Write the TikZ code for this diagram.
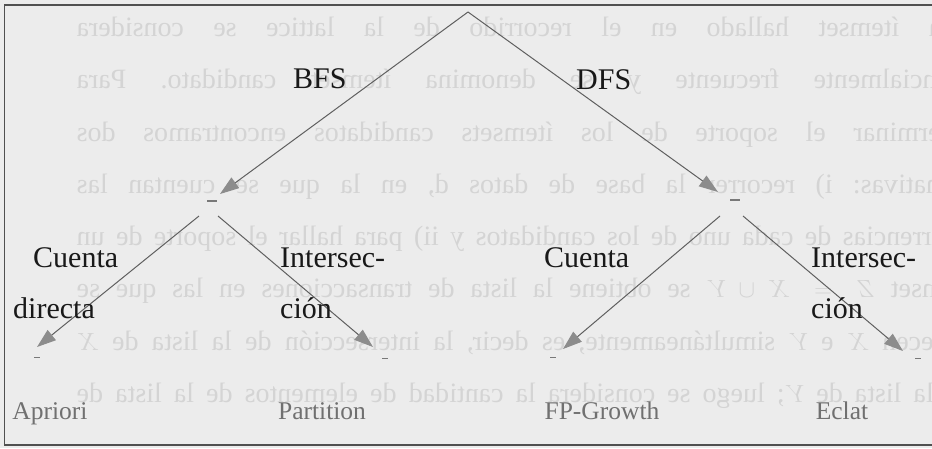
\documentclass[tikz,border=0pt]{standalone}
\usepackage{fontspec}
\setmainfont{Liberation Serif}
\usetikzlibrary{arrows.meta}
\frenchspacing

\definecolor{paper}{RGB}{236,236,236}
\definecolor{showthrough}{RGB}{212,212,212}
\definecolor{edgegray}{RGB}{95,95,95}
\definecolor{tipgray}{RGB}{140,140,140}
\definecolor{leafgray}{RGB}{112,112,112}
\definecolor{framegray}{RGB}{80,80,80}
\definecolor{markgray}{RGB}{120,120,120}

\begin{document}
\begin{tikzpicture}[x=1pt,y=-1pt,
  edge/.style={draw=edgegray, line width=1pt},
  arr/.style={edge, -{Triangle[length=19pt,width=13pt,color=tipgray]}},
  lbl/.style={font=\fontsize{30}{36}\selectfont, text=black!90, inner sep=0pt, anchor=base west},
  leaf/.style={font=\fontsize{25.5}{30}\selectfont, text=leafgray, inner sep=0pt, anchor=base},
  bleed/.style={font=\fontsize{28}{34}\selectfont, text=showthrough, inner sep=0pt,
                anchor=base west, xscale=-1, transform shape},
  midmark/.style={fill=markgray, minimum width=10pt, minimum height=1.2pt, inner sep=0pt},
  leafmark/.style={fill=markgray, minimum width=6pt, minimum height=1pt, inner sep=0pt}
]
\useasboundingbox (0,0) rectangle (932,448);
\fill[paper] (0,0) rectangle (932,448);

% text showing through from the reverse side of the page (mirrored)
\begin{scope}
\clip (0,0) rectangle (932,448);
\node[bleed] (s1) at (957,36)  {\makebox[880pt][s]{un ítemset hallado en el recorrido de la lattice se considera}};
\node[bleed] (s2) at (985,88)  {\makebox[908pt][s]{potencialmente frecuente y se denomina ítemset candidato. Para}};
\node[bleed] (s3) at (975,141) {\makebox[898pt][s]{determinar el soporte de los ítemsets candidatos encontramos dos}};
\node[bleed] (s4) at (990,193) {\makebox[913pt][s]{alternativas: i) recorrer la base de datos d, en la que se cuentan las}};
\node[bleed] (s5) at (972,245) {\makebox[895pt][s]{ocurrencias de cada uno de los candidatos y ii) para hallar el soporte de un}};
\node[bleed] (s6) at (972,297) {\makebox[895pt][s]{itemset $Z = X \cup Y$ se obtiene la lista de transacciones en las que se}};
\node[bleed] (s7) at (982,350) {\makebox[905pt][s]{aparecen $X$ e $Y$ simultáneamente, es decir, la intersección de la lista de $X$}};
\node[bleed] (s8) at (960,402) {\makebox[883pt][s]{y la lista de $Y$; luego se considera la cantidad de elementos de la lista de}};
\end{scope}

% frame
\draw[framegray, line width=1.5pt] (932,5) -- (4.5,5) -- (4.5,445) -- (932,445);

% tree nodes
\coordinate (root) at (468,12);
\node[midmark] (bfs) at (212,201) {};
\node[midmark] (dfs) at (735,200) {};
\node[leafmark] (apriori) at (37,357) {};
\node[leafmark] (partition) at (385,358) {};
\node[leafmark] (fpgrowth) at (553,357) {};
\node[leafmark] (eclat) at (918,358) {};

% connector ends
\coordinate (bfs-in) at (220,194);
\coordinate (dfs-in) at (718,192);
\coordinate (bfs-l) at (199,216);
\coordinate (bfs-r) at (218,216);
\coordinate (dfs-l) at (720,216);
\coordinate (dfs-r) at (743,216);
\coordinate (apriori-in) at (37,347);
\coordinate (partition-in) at (373,347);
\coordinate (fpgrowth-in) at (563,349);
\coordinate (eclat-in) at (903,351);

% connectors
\draw[arr] (root) -- (bfs-in);
\draw[arr] (root) -- (dfs-in);
\draw[arr] (bfs-l) -- (apriori-in);
\draw[arr] (bfs-r) -- (partition-in);
\draw[arr] (dfs-l) -- (fpgrowth-in);
\draw[arr] (dfs-r) -- (eclat-in);

% branch labels
\node[lbl] (tbfs) at (293,88) {BFS};
\node[lbl] (tdfs) at (576,89) {DFS};
\node[lbl] (c1a) at (33,267) {Cuenta};
\node[lbl] (c1b) at (13,318) {directa};
\node[lbl] (i1a) at (280,267) {Intersec-};
\node[lbl] (i1b) at (280,318) {ción};
\node[lbl] (c2a) at (544,267) {Cuenta};
\node[lbl] (i2a) at (811,267) {Intersec-};
\node[lbl] (i2b) at (811,318) {ción};

% algorithm names
\node[leaf] (lapriori) at (50,419) {Apriori};
\node[leaf] (lpartition) at (322,419) {Partition};
\node[leaf] (lfp) at (602,419) {FP-Growth};
\node[leaf] (leclat) at (842,419) {Eclat};
\end{tikzpicture}
\end{document}
